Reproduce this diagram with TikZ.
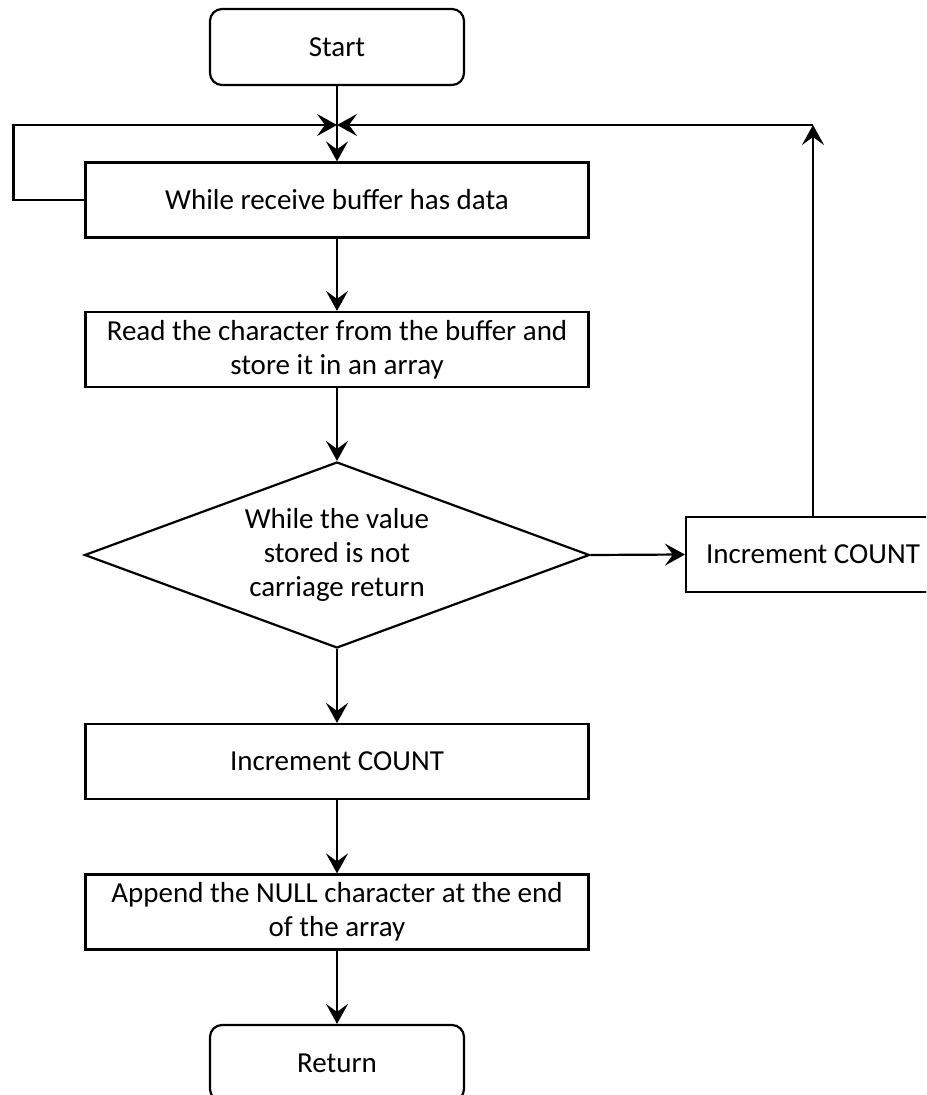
\documentclass[tikz,border=0pt]{standalone}
\usepackage{fontspec}
\setmainfont{Carlito}
\usetikzlibrary{arrows.meta, shapes.geometric, positioning}

\begin{document}
\begin{tikzpicture}[>={Stealth[length=10pt,width=11pt,inset=4pt]}, x=0.5pt, y=-0.5pt,
        every node/.style={font=\fontsize{14.5}{17}\selectfont, align=center},
        box/.style={draw, line width=1.1pt, minimum width=251.5pt, minimum height=37.5pt, inner sep=0pt},
        term/.style={box, rounded corners=6pt, minimum width=127pt, minimum height=38pt},
        decision/.style={draw, line width=1.1pt, diamond, aspect=2.7, minimum width=252.5pt, minimum height=93pt, inner sep=0pt},
        flow/.style={->, line width=1.1pt}]

        % page frame (box at the right and the bottom are cut by it)
        \path[use as bounding box, clip] (0,0) rectangle (926,1095);

        % --- main column ---
        \node[term] (start) at (337,47) {Start};
        \node[box] (recv) at (337,200) {While receive buffer has data};
        \node[box] (readchar) at (337,349.5) {Read the character from the buffer and\\store it in an array};
        \node[decision] (check) at (337,555) {While the value\\stored is not\\carriage return};
        \node[box] (countend) at (337,761.5) {Increment COUNT};
        \node[box] (append) at (337,912) {Append the NULL character at the end\\of the array};
        \node[term] (finish) at (337,1063) {Return};

        % --- side branch ---
        \node[box, minimum width=127pt] (countloop) at (813,554.5) {Increment COUNT};

        % Loop points
        \coordinate (join) at (337,125);
        \coordinate (up) at (813,125);

        % Flow down
        \draw[flow] (start) -- (recv);
        \draw[flow] (recv) -- (readchar);
        \draw[flow] (readchar) -- (check);
        \draw[flow] (check) -- (countend);
        \draw[flow] (countend) -- (append);
        \draw[flow] (append) -- (finish);

        % Loop back from the left
        \draw[flow] (recv.west) -- ++(-71,0) |- (join);

        % Loop back from the right
        \draw[flow] (check.east) -- (countloop.west);
        \draw[flow] (countloop) -- (up);
        \draw[flow] (up) -- (join);

    \end{tikzpicture}
\end{document}
